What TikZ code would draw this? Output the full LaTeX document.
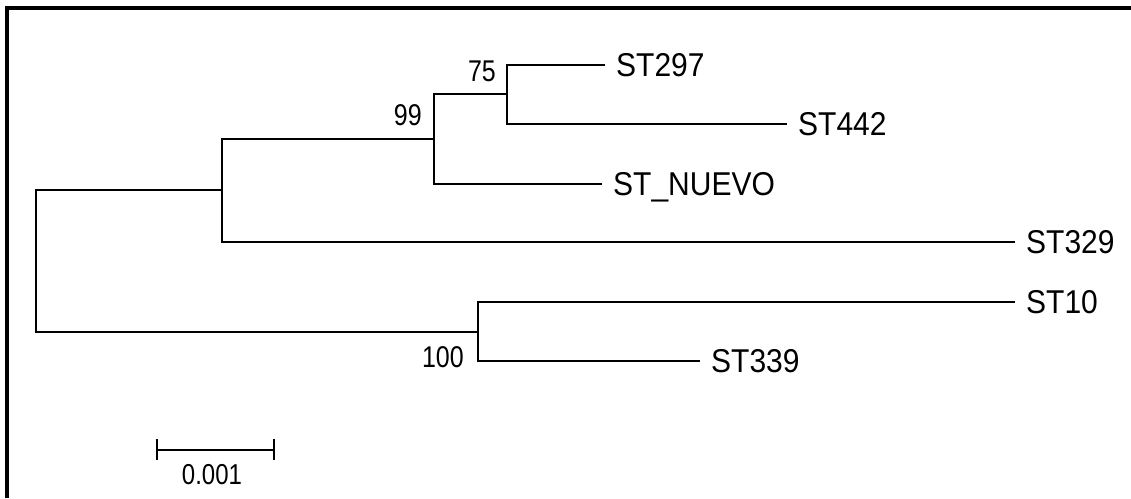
\documentclass[tikz,border=0pt]{standalone}
\usepackage{fontspec}
\setmainfont{Liberation Sans}
% narrow, tall lettering as in the tree's labels
\newcommand{\tallnum}[1]{\scalebox{1}[1.2]{#1}}
\newcommand{\talltaxon}[1]{\scalebox{1}[1.1]{#1}}
\begin{document}
\begin{tikzpicture}[x=1pt,y=-1pt,
  branch/.style={line width=1.9pt, black},
  frame/.style={line width=3.6pt, black},
  taxon/.style={anchor=west, inner sep=0pt, font=\fontsize{30}{30}\selectfont,
                text height=23.6pt, text depth=0pt, xshift=11pt},
  support/.style={anchor=east, inner sep=0pt, font=\fontsize{25}{25}\selectfont,
                text height=21.5pt, text depth=0pt},
  scalelabel/.style={inner sep=0pt, font=\fontsize{24}{24}\selectfont,
                text height=20.6pt, text depth=0pt}]
  % canvas
  \useasboundingbox (0,0) rectangle (1131,498);
  \fill[white] (0,0) rectangle (1131,498);
  \draw[frame] (7,498) -- (7,8) -- (1131,8);

  % internal nodes (at the point where the parent branch joins)
  \coordinate (root) at (36,261);
  \coordinate (nUp)  at (222,190);
  \coordinate (n99)  at (434,139);
  \coordinate (n75)  at (507,94);
  \coordinate (nLow) at (478,332);

  % taxon labels, placed just beyond the tips of their branches
  \node[taxon] (t297)   at (605,65)  {\talltaxon{ST297}};
  \node[taxon] (t442)   at (787,124) {\talltaxon{ST442}};
  \node[taxon] (tnuevo) at (602,184) {\talltaxon{ST\_NUEVO}};
  \node[taxon] (t329)   at (1015,242) {\talltaxon{ST329}};
  \node[taxon] (t10)    at (1015,302) {\talltaxon{ST10}};
  \node[taxon] (t339)   at (700,361) {\talltaxon{ST339}};

  % branches
  \draw[branch] (root) |- (nUp);
  \draw[branch] (root) |- (nLow);
  \draw[branch] (nUp) |- (n99);
  \draw[branch] (nUp) |- ([xshift=-11pt]t329.west);
  \draw[branch] (n99) |- (n75);
  \draw[branch] (n99) |- ([xshift=-11pt]tnuevo.west);
  \draw[branch] (n75) |- ([xshift=-11pt]t297.west);
  \draw[branch] (n75) |- ([xshift=-11pt]t442.west);
  \draw[branch] (nLow) |- ([xshift=-11pt]t10.west);
  \draw[branch] (nLow) |- ([xshift=-11pt]t339.west);

  % bootstrap support values
  \node[support] (b75)  at (496,71)  {\tallnum{75}};
  \node[support] (b99)  at (422,115) {\tallnum{99}};
  \node[support] (b100) at (464,357) {\tallnum{100}};

  % scale bar
  \coordinate (sbL) at (157,450);
  \coordinate (sbR) at (274,450);
  \draw[branch] (sbL) -- (sbR);
  \draw[branch] ([yshift=-10pt]sbL) -- ([yshift=11pt]sbL);
  \draw[branch] ([yshift=-10pt]sbR) -- ([yshift=11pt]sbR);
  \node[scalelabel] (sbt) at (212,474) {\tallnum{0.001}};
\end{tikzpicture}
\end{document}
